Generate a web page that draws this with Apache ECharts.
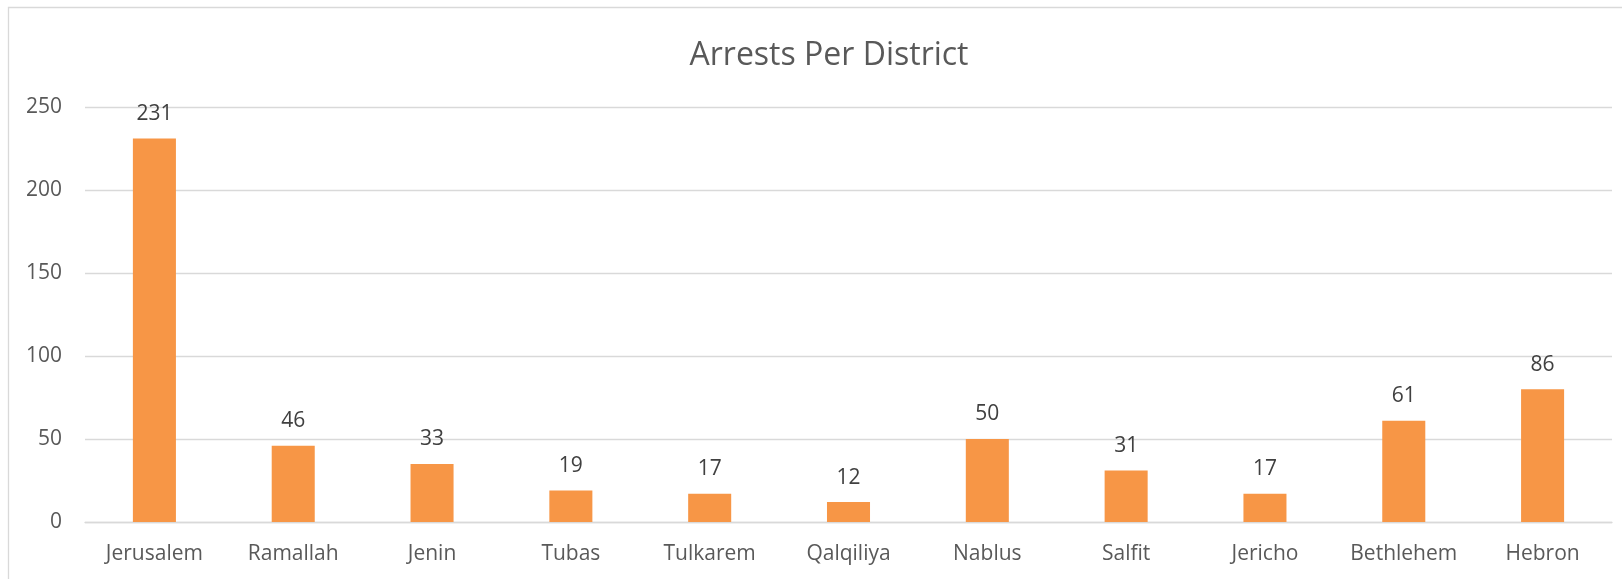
<!DOCTYPE html>
<html>
<head>
<meta charset="utf-8">
<title>Arrests Per District</title>
<script src="https://cdn.jsdelivr.net/npm/echarts@6/dist/echarts.min.js"></script>
<style>
  html, body { margin: 0; padding: 0; background: #fff; }
  #main { width: 1622px; height: 579px; }
</style>
</head>
<body>
<div id="main"></div>
<script>
// districts on the x axis
var districts = ['Jerusalem', 'Ramallah', 'Jenin', 'Tubas', 'Tulkarem', 'Qalqiliya',
  'Nablus', 'Salfit', 'Jericho', 'Bethlehem', 'Hebron'];
// bar heights as drawn
var arrests = [231, 46, 35, 19, 17, 12, 50, 31, 17, 61, 80];
// data label text as printed above each bar (differs from bar height in a couple of places)
var arrestLabels = ['231', '46', '33', '19', '17', '12', '50', '31', '17', '61', '86'];
var yTicks = [0, 50, 100, 150, 200, 250];

var myChart = echarts.init(document.getElementById('main'));

var font = '"Open Sans", "DejaVu Sans", sans-serif';

var option = {
  animation: false,
  backgroundColor: '#ffffff',
  title: {
    text: 'Arrests Per District',
    left: 824,
    top: 35,
    textAlign: 'center',
    textStyle: {
      fontFamily: font,
      fontSize: 32,
      fontWeight: 'normal',
      color: '#595959'
    }
  },
  // the chart-area frame, clipped at right and bottom like the source
  graphic: [{
    type: 'rect',
    shape: { x: 8.5, y: 7.5, width: 1700, height: 700 },
    style: { fill: 'none', stroke: '#D9D9D9', lineWidth: 1.3 },
    silent: true
  }],
  grid: {
    left: 85,
    right: 10,
    top: 107,
    bottom: 57
  },
  xAxis: {
    type: 'category',
    data: districts,
    axisTick: { show: false },
    axisLine: { lineStyle: { color: '#D9D9D9', width: 1.3 } },
    axisLabel: {
      interval: 0,
      hideOverlap: false,
      margin: 22,
      fontFamily: font,
      fontSize: 21,
      color: '#595959'
    }
  },
  yAxis: {
    type: 'value',
    min: yTicks[0],
    max: yTicks[yTicks.length - 1],
    interval: 50,
    axisLine: { show: false },
    axisTick: { show: false },
    splitLine: { lineStyle: { color: '#D9D9D9', width: 1.3 } },
    axisLabel: {
      margin: 23,
      fontFamily: font,
      fontSize: 21,
      color: '#595959'
    }
  },
  series: [{
    name: 'Arrests',
    type: 'bar',
    data: arrests,
    barWidth: '31%',
    itemStyle: { color: '#F79646' },
    label: {
      show: true,
      position: 'top',
      distance: 14,
      fontFamily: font,
      fontSize: 21,
      color: '#404040',
      formatter: function (p) {
        return arrestLabels[p.dataIndex];
      }
    }
  }]
};

myChart.setOption(option);
</script>
</body>
</html>
